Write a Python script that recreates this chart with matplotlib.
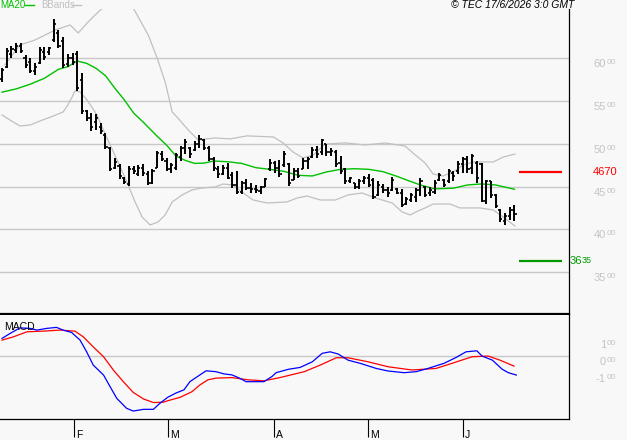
import numpy as np
import matplotlib.pyplot as plt

plt.rcParams['font.family'] = ['Liberation Sans', 'DejaVu Sans']

# daily OHLC bars, trading-day index 0..109 (mid Jan -> 16 Jun 2026)
highs = [5892, 6116, 6144, 6175, 6175, 6039, 6008, 5942, 6136, 6136,
         6136, 6457, 6330, 6252, 6047, 6058, 6085, 5826, 5399, 5361,
         5349, 5244, 5128, 4961, 4837, 4760, 4613, 4740, 4740, 4752,
         4760, 4682, 4702, 4915, 4915, 4830, 4779, 4895, 4973, 5062,
         4961, 5039, 5109, 5062, 4973, 4845, 4740, 4752, 4771, 4675,
         4682, 4566, 4585, 4547, 4519, 4508, 4605, 4818, 4799, 4806,
         4915, 4779, 4713, 4713, 4830, 4845, 4961, 4973, 5062, 5000,
         4946, 4923, 4857, 4713, 4613, 4547, 4585, 4624, 4651, 4605,
         4566, 4527, 4496, 4613, 4488, 4469, 4380, 4430, 4488, 4605,
         4508, 4496, 4574, 4663, 4585, 4702, 4682, 4799, 4845, 4857,
         4884, 4799, 4779, 4574, 4566, 4411, 4237, 4186, 4264, 4283]
lows = [5729, 5884, 6000, 6058, 6058, 5892, 5826, 5806, 5930, 5981,
        6039, 6194, 6116, 5892, 5903, 5923, 5613, 5349, 5271, 5147,
        5167, 5116, 4934, 4682, 4702, 4585, 4527, 4508, 4644, 4624,
        4624, 4519, 4535, 4713, 4799, 4682, 4663, 4690, 4799, 4876,
        4837, 4915, 4954, 4923, 4799, 4682, 4605, 4636, 4585, 4488,
        4411, 4411, 4457, 4430, 4430, 4419, 4496, 4682, 4663, 4613,
        4729, 4508, 4574, 4597, 4702, 4702, 4837, 4837, 4868, 4857,
        4857, 4729, 4651, 4535, 4547, 4469, 4469, 4527, 4496, 4353,
        4392, 4430, 4380, 4450, 4411, 4256, 4287, 4314, 4314, 4392,
        4380, 4392, 4411, 4566, 4496, 4547, 4566, 4651, 4663, 4663,
        4644, 4547, 4314, 4302, 4372, 4248, 4081, 4054, 4109, 4101]
opens = [5760, 5900, 6050, 6100, 6150, 6000, 5960, 5850, 5950, 6080,
         6080, 6220, 6300, 6200, 5930, 6000, 6050, 5750, 5380, 5300,
         5250, 5200, 5100, 4950, 4720, 4740, 4600, 4530, 4700, 4650,
         4720, 4650, 4540, 4720, 4880, 4800, 4700, 4720, 4850, 4950,
         4950, 4930, 5000, 5050, 4950, 4820, 4700, 4650, 4720, 4640,
         4520, 4440, 4540, 4480, 4470, 4450, 4500, 4700, 4780, 4720,
         4750, 4770, 4580, 4680, 4710, 4800, 4850, 4930, 4900, 5000,
         4900, 4900, 4780, 4700, 4570, 4540, 4500, 4560, 4600, 4580,
         4400, 4500, 4460, 4460, 4470, 4430, 4300, 4340, 4380, 4460,
         4500, 4420, 4440, 4580, 4580, 4560, 4660, 4680, 4760, 4820,
         4720, 4780, 4760, 4330, 4560, 4400, 4230, 4100, 4150, 4230]
closes = [5860, 6090, 6110, 6150, 6090, 5920, 5850, 5900, 6100, 6020,
          6120, 6400, 6150, 5920, 6010, 5960, 5650, 5380, 5300, 5200,
          5300, 5150, 4960, 4700, 4790, 4620, 4550, 4700, 4680, 4720,
          4660, 4540, 4680, 4890, 4820, 4700, 4750, 4870, 4950, 5020,
          4880, 5000, 5060, 4950, 4820, 4720, 4650, 4720, 4600, 4520,
          4440, 4540, 4480, 4470, 4460, 4490, 4590, 4780, 4720, 4650,
          4880, 4540, 4680, 4620, 4800, 4820, 4930, 4880, 5040, 4900,
          4920, 4760, 4680, 4560, 4600, 4490, 4560, 4600, 4520, 4380,
          4520, 4460, 4420, 4580, 4430, 4280, 4350, 4400, 4460, 4560,
          4400, 4460, 4540, 4630, 4520, 4680, 4620, 4770, 4820, 4700,
          4860, 4600, 4330, 4560, 4400, 4270, 4120, 4150, 4230, 4180]

# MA20 and Bollinger bands (x = trading-day index)
ma20_x = [0, 3, 6, 9, 12, 14, 16, 18, 20, 22, 24, 26, 28, 30, 33, 35, 37, 39, 41,
          43, 45, 48, 51, 54, 57, 60, 63, 66, 69, 72, 75, 78, 81, 84, 87, 89, 92,
          96, 99, 102, 105, 109]
ma20 = [5605, 5643, 5698, 5767, 5872, 5903, 5969, 5942, 5884, 5798, 5651, 5516,
        5360, 5256, 5089, 4985, 4857, 4806, 4771, 4775, 4799, 4791, 4771, 4721,
        4702, 4678, 4632, 4624, 4671, 4702, 4709, 4702, 4675, 4620, 4558, 4519,
        4473, 4481, 4519, 4531, 4519, 4469]
bb_up_x = [0.6, 3.8, 7.0, 11.3, 14.5, 16.2, 18.7, 20.9, 23.0, 25.4, 27.9, 31.1,
           33.0, 34.7, 36.2, 37.4, 39.6, 41.7, 45.3, 48.5, 52.1, 57.7, 59.8, 61.9,
           64.0, 66.2, 68.7, 73.0, 77.2, 81.5, 85.7, 87.9, 90.0, 91.7, 93.8, 96.0,
           98.1, 100.2, 104.5, 106.6, 109.1]
bb_up = [5923, 6157, 6215, 6332, 6391, 6297, 6449, 6566, 6648, 6720, 6591, 6274,
         6004, 5724, 5373, 5303, 5163, 5046, 5069, 5058, 5093, 5081, 5010, 4905,
         4835, 4870, 4998, 5011, 4987, 5010, 4975, 4870, 4776, 4647, 4624, 4671,
         4753, 4788, 4788, 4846, 4881]
bb_lo_x = [0, 1.7, 3.8, 6.0, 8.1, 10.9, 13.0, 14.0, 14.9, 15.5, 16.6, 18.1, 20.2,
           22.3, 24.0, 26.2, 28.3, 29.8, 31.5, 33.2, 34.7, 36.2, 38.3, 40.4, 42.6,
           45.3, 47.0, 49.1, 51.3, 53.4, 56.4, 60.6, 62.8, 64.9, 67.7, 70.9, 73.6,
           76.6, 79.4, 83.0, 85.1, 86.8, 88.5, 90.0, 91.7, 95.3, 97.4, 101.7, 104.5,
           106.6, 109.1]
bb_lo = [5338, 5279, 5209, 5221, 5268, 5326, 5373, 5455, 5548, 5619, 5607, 5513,
         5338, 5069, 4870, 4601, 4320, 4144, 4051, 4086, 4168, 4320, 4402, 4461,
         4484, 4495, 4530, 4519, 4425, 4343, 4308, 4320, 4367, 4390, 4343, 4343,
         4402, 4425, 4367, 4308, 4203, 4168, 4215, 4250, 4296, 4296, 4250, 4250,
         4226, 4144, 4039]

# MACD and signal line
macd_x = [0, 1.7, 3.8, 6.0, 7.4, 9.5, 11.6, 13.0, 14.8, 16.6, 18.0, 19.4, 21.6,
          23.0, 24.4, 26.5, 27.9, 30.1, 32.2, 33.6, 35.3, 37.0, 38.7, 40.0, 42.1,
          43.4, 45.5, 47.2, 48.9, 50.6, 51.9, 55.7, 57.4, 58.3, 60.9, 63.4, 66.0,
          68.1, 69.8, 71.5, 73.6, 76.2, 79.6, 82.1, 85.5, 88.1, 90.6, 94.0, 96.6,
          98.7, 101.0, 102.1, 104.3, 106.4, 107.7, 109.4]
macd = [106, 135, 168, 165, 155, 165, 171, 155, 141, 96, 27, -51, -110, -179,
        -247, -306, -322, -312, -312, -276, -240, -216, -197, -148, -109, -85,
        -90, -103, -109, -129, -149, -149, -119, -96, -76, -65, -32, 18, 27, 14,
        -22, -41, -71, -86, -96, -90, -71, -41, -6, 27, 33, 2, -22, -76, -96, -110]
signal_x = [0, 2.4, 5.3, 8.8, 12.3, 15.5, 17.3, 19.4, 21.6, 23.7, 25.8, 27.9,
            30.1, 32.2, 34.3, 35.3, 37.9, 40.4, 42.1, 43.8, 45.5, 48.9, 52.3,
            55.7, 59.1, 64.3, 67.7, 71.1, 73.6, 77.9, 82.1, 87.2, 92.3, 95.7,
            100.0, 103.4, 105.9, 108.9]
signal = [96, 115, 145, 149, 155, 149, 115, 56, -2, -81, -149, -212, -251, -272,
          -270, -261, -241, -208, -168, -138, -128, -125, -138, -144, -125, -90,
          -51, -8, -8, -32, -61, -80, -71, -41, -2, 2, -22, -57]

price_levels = [3500, 4000, 4500, 5000, 5500, 6000]
macd_levels = [-100, 0, 100]
month_ticks = [15.3, 35.4, 57.8, 77.8, 98.1]
month_labels = ['F', 'M', 'A', 'M', 'J']
resistance = 4670
support = 3635

bg = '#f8f8f8'
grid = '#c8c8c8'
lbl = '#c4c4c4'

fig = plt.figure(figsize=(6.27, 4.4), dpi=100, facecolor=bg)
ax = fig.add_axes([0, 126 / 440, 569 / 627, 305 / 440], facecolor=bg)
ax2 = fig.add_axes([0, 21.5 / 440, 569 / 627, 103.5 / 440], facecolor=bg)

# ---- price panel
ax.set_xlim(-0.43, 120.6)
ax.set_ylim(3009, 6578)
for v in price_levels:
    ax.axhline(v, color=grid, lw=1.0, zorder=0)

idx = np.arange(len(highs))
ax.plot(bb_up_x, bb_up, color='#c0c0c0', lw=0.9, zorder=1)
ax.plot(bb_lo_x, bb_lo, color='#c0c0c0', lw=0.9, zorder=1)
ax.plot(ma20_x, ma20, color='#00c000', lw=1.0, zorder=2)
ax.vlines(idx, lows, highs, color='black', lw=1.4, zorder=3)
ax.hlines(opens, idx - 0.45, idx, color='black', lw=1.2, zorder=3)
ax.hlines(closes, idx, idx + 0.45, color='black', lw=1.2, zorder=3)

ax.hlines(resistance, 110, 119.2, color='#ff0000', lw=1.6)
ax.hlines(support, 110, 119.2, color='#009900', lw=1.6)

ax.set_xticks([])
ax.set_yticks([])
for s in ['left', 'top']:
    ax.spines[s].set_visible(False)
ax.spines['right'].set_color('black')
ax.spines['right'].set_linewidth(0.9)
ax.spines['bottom'].set_color('black')
ax.spines['bottom'].set_linewidth(1.6)

for v in price_levels:
    s = str(v)
    ax.annotate(s[:-2], xy=(606, v), xycoords=('figure pixels', 'data'),
                xytext=(0, -1), textcoords='offset pixels', ha='right', va='top',
                fontsize=8, color=lbl)
    ax.annotate(s[-2:], xy=(606, v), xycoords=('figure pixels', 'data'),
                xytext=(1, -1), textcoords='offset pixels', ha='left', va='top',
                fontsize=6, color=lbl)

ax.annotate(str(resistance), xy=(593, resistance), xycoords=('figure pixels', 'data'),
            ha='left', va='center', fontsize=8, color='#ff0000')
ax.annotate(str(support)[:2], xy=(570, support), xycoords=('figure pixels', 'data'),
            ha='left', va='center', fontsize=8, color='#009900')
ax.annotate(str(support)[2:], xy=(582, support), xycoords=('figure pixels', 'data'),
            ha='left', va='center', fontsize=6.5, color='#009900')

# legend + copyright
fig.text(0 / 627, 1 - 5 / 440, 'MA20', color='#00c000', fontsize=7, va='center', ha='left')
fig.add_artist(plt.Line2D([25 / 627, 34 / 627], [1 - 5 / 440] * 2, color='#00c000', lw=1))
fig.text(41 / 627, 1 - 5 / 440, 'BBands', color='#c0c0c0', fontsize=7, va='center', ha='left')
fig.add_artist(plt.Line2D([72 / 627, 81 / 627], [1 - 5 / 440] * 2, color='#c0c0c0', lw=1))
fig.text(574 / 627, 1 - 5.5 / 440, '\u00a9 TEC 17/6/2026 3:0 GMT', fontsize=7.5,
         style='italic', va='center', ha='right', color='black')

# ---- MACD panel
ax2.set_xlim(-0.43, 120.6)
ax2.set_ylim(-366, 244)
ax2.axhline(0, color=grid, lw=1.0, zorder=0)
ax2.plot(signal_x, signal, color='#ff0000', lw=0.9)
ax2.plot(macd_x, macd, color='#0000ff', lw=0.9)
ax2.text(0.5, 200, 'MACD', fontsize=7.5, color='black', va='top', ha='left')

ax2.set_yticks([])
ax2.set_xticks(month_ticks)
ax2.set_xticklabels([])
ax2.tick_params(axis='x', direction='out', length=13, width=0.8, color='black')
for s in ['left', 'top']:
    ax2.spines[s].set_visible(False)
ax2.spines['right'].set_linewidth(0.9)
ax2.spines['bottom'].set_linewidth(0.9)

for t, m in zip(month_ticks, month_labels):
    ax2.annotate(m, xy=(t, 0), xycoords=('data', 'axes fraction'),
                 xytext=(2, -11), textcoords='offset pixels', ha='left', va='top',
                 fontsize=7.5, color='black')

for v in macd_levels:
    ax2.annotate(str(v // 100), xy=(606, v), xycoords=('figure pixels', 'data'),
                 xytext=(0, -1), textcoords='offset pixels', ha='right', va='top',
                 fontsize=8, color=lbl)
    ax2.annotate('00', xy=(606, v), xycoords=('figure pixels', 'data'),
                 xytext=(1, -1), textcoords='offset pixels', ha='left', va='top',
                 fontsize=6, color=lbl)

fig.savefig('out.png', dpi=100, facecolor=bg)
